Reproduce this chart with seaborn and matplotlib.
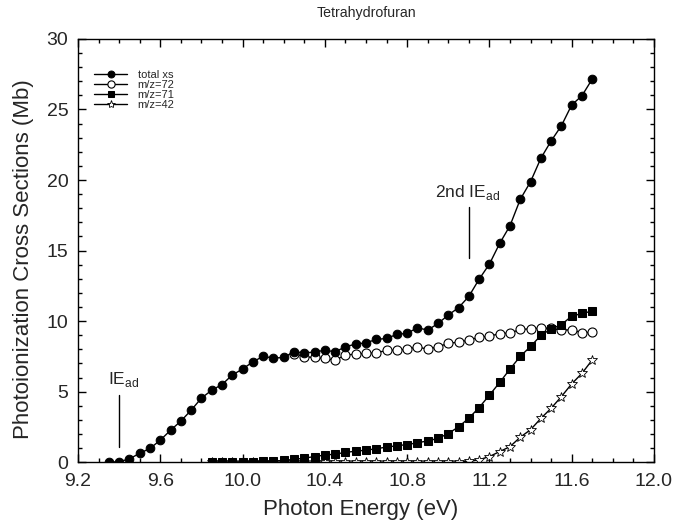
import numpy as np
import pandas as pd
import matplotlib
matplotlib.use("Agg")
import matplotlib.pyplot as plt
from matplotlib.ticker import MultipleLocator, FormatStrFormatter
import seaborn as sns

# ---------------- data ----------------
energy_total = [9.35, 9.40, 9.45, 9.50, 9.55, 9.60, 9.65, 9.70, 9.75, 9.80,
                9.85, 9.90, 9.95, 10.00, 10.05, 10.10, 10.15, 10.20, 10.25, 10.30,
                10.35, 10.40, 10.45, 10.50, 10.55, 10.60, 10.65, 10.70, 10.75, 10.80,
                10.85, 10.90, 10.95, 11.00, 11.05, 11.10, 11.15, 11.20, 11.25, 11.30,
                11.35, 11.40, 11.45, 11.50, 11.55, 11.60, 11.65, 11.70]
total_xs = [0.00, 0.03, 0.23, 0.63, 0.97, 1.56, 2.26, 2.91, 3.68, 4.54,
            5.10, 5.50, 6.18, 6.60, 7.11, 7.50, 7.38, 7.42, 7.83, 7.75,
            7.80, 7.94, 7.82, 8.18, 8.37, 8.46, 8.70, 8.77, 9.06, 9.13,
            9.53, 9.36, 9.83, 10.43, 10.95, 11.75, 12.97, 14.04, 15.51, 16.76,
            18.63, 19.88, 21.54, 22.77, 23.85, 25.32, 25.98, 27.16]

energy_72 = [10.25, 10.30, 10.35, 10.40, 10.45, 10.50, 10.55, 10.60, 10.65, 10.70,
             10.75, 10.80, 10.85, 10.90, 10.95, 11.00, 11.05, 11.10, 11.15, 11.20,
             11.25, 11.30, 11.35, 11.40, 11.45, 11.50, 11.55, 11.60, 11.65, 11.70]
mz72 = [7.70, 7.47, 7.42, 7.35, 7.23, 7.59, 7.66, 7.71, 7.75, 7.92,
        7.94, 8.00, 8.18, 8.00, 8.18, 8.42, 8.51, 8.65, 8.86, 8.92,
        9.12, 9.15, 9.41, 9.45, 9.50, 9.48, 9.36, 9.38, 9.18, 9.20]

energy_frag = [9.85, 9.90, 9.95, 10.00, 10.05, 10.10, 10.15, 10.20, 10.25, 10.30,
               10.35, 10.40, 10.45, 10.50, 10.55, 10.60, 10.65, 10.70, 10.75, 10.80,
               10.85, 10.90, 10.95, 11.00, 11.05, 11.10, 11.15, 11.20, 11.25, 11.30,
               11.35, 11.40, 11.45, 11.50, 11.55, 11.60, 11.65, 11.70]
mz71 = [0.00, 0.00, 0.00, 0.02, 0.03, 0.05, 0.08, 0.12, 0.20, 0.28,
        0.40, 0.50, 0.57, 0.69, 0.78, 0.85, 0.95, 1.07, 1.16, 1.25,
        1.37, 1.51, 1.68, 2.03, 2.50, 3.12, 3.87, 4.75, 5.65, 6.60,
        7.50, 8.20, 8.98, 9.45, 9.75, 10.35, 10.54, 10.71]
mz42 = [0.00, 0.00, 0.00, 0.00, 0.00, 0.00, 0.00, 0.00, 0.00, 0.00,
        0.00, 0.00, 0.00, 0.00, 0.00, 0.00, 0.00, 0.00, 0.00, 0.00,
        0.00, 0.00, 0.00, 0.00, 0.01, 0.05, 0.17, 0.40, 0.75, 1.10,
        1.77, 2.30, 3.10, 3.82, 4.65, 5.55, 6.30, 7.25]

labels = ["total xs", "m/z=72", "m/z=71", "m/z=42"]
title = "Tetrahydrofuran"
xlabel = "Photon Energy (eV)"
ylabel = "Photoionization Cross Sections (Mb)"
x_ticks = [9.2, 9.6, 10.0, 10.4, 10.8, 11.2, 11.6, 12.0]
y_ticks = [0, 5, 10, 15, 20, 25, 30]

# annotations: (energy, y_low, y_high, text_x, text_y, text)
ie_marks = [
    (9.40, 1.1, 4.75, 9.345, 5.55, r"IE$_\mathregular{ad}$"),
    (11.10, 14.45, 18.1, 10.935, 18.8, r"2nd IE$_\mathregular{ad}$"),
]

# ---------------- plot ----------------
sns.set_style("ticks")
plt.rcParams["font.family"] = ["Liberation Sans", "DejaVu Sans"]
plt.rcParams["mathtext.fontset"] = "custom"
plt.rcParams["mathtext.rm"] = "Liberation Sans"

fig = plt.figure(figsize=(6.74, 5.30), dpi=100)
ax = fig.add_axes([0.1157, 0.128, 0.8546, 0.7985])

lw = 1.0
df72 = pd.DataFrame({"E": energy_72, "v": mz72})
dff = pd.DataFrame({"E": energy_frag, "a": mz71, "b": mz42})
dft = pd.DataFrame({"E": energy_total, "v": total_xs})

sns.lineplot(data=df72, x="E", y="v", ax=ax, color="black", lw=lw,
             marker="o", markersize=6.5, markerfacecolor="white",
             markeredgecolor="black", markeredgewidth=0.8, label=labels[1])
sns.lineplot(data=dff, x="E", y="b", ax=ax, color="black", lw=lw,
             marker="*", markersize=7.5, markerfacecolor="white",
             markeredgecolor="black", markeredgewidth=0.6, label=labels[3])
sns.lineplot(data=dff, x="E", y="a", ax=ax, color="black", lw=lw,
             marker="s", markersize=5.2, markerfacecolor="black",
             markeredgecolor="black", label=labels[2])
sns.lineplot(data=dft, x="E", y="v", ax=ax, color="black", lw=lw,
             marker="o", markersize=6.2, markerfacecolor="black",
             markeredgecolor="black", label=labels[0])

# annotation lines and texts
for e, ylo, yhi, tx, ty, txt in ie_marks:
    ax.plot([e, e], [ylo, yhi], color="black", lw=1.0)
    ax.text(tx, ty, txt, fontsize=12.5, ha="left", va="baseline")

ax.set_xlim(9.2, 12.0)
ax.set_ylim(0, 30)
ax.set_xticks(x_ticks)
ax.set_yticks(y_ticks)
ax.xaxis.set_major_formatter(FormatStrFormatter("%.1f"))
ax.xaxis.set_minor_locator(MultipleLocator(0.1))
ax.yaxis.set_minor_locator(MultipleLocator(1))
ax.tick_params(which="both", direction="in", top=True, right=True,
               labelsize=14, width=1.0, color="black")
ax.tick_params(axis="x", which="major", pad=8)
ax.tick_params(axis="y", which="major", pad=7)
ax.tick_params(which="major", length=6)
ax.tick_params(which="minor", length=3)
for s in ax.spines.values():
    s.set_visible(True)
    s.set_linewidth(1.0)
    s.set_color("black")

ax.set_xlabel(xlabel, fontsize=16, labelpad=6, x=0.491)
ax.set_ylabel(ylabel, fontsize=16, labelpad=9, y=0.48)
ax.set_title(title, fontsize=10.2, pad=16)

handles, labs = ax.get_legend_handles_labels()
order = [labs.index(l) for l in labels]
leg = ax.legend([handles[i] for i in order], [labs[i] for i in order],
                loc="upper left", bbox_to_anchor=(0.015, 0.946),
                frameon=False, fontsize=8, handlelength=2.9,
                handletextpad=1.0, labelspacing=0.0, borderaxespad=0.3,
                markerscale=0.8)

fig.savefig("out.png", dpi=100)
